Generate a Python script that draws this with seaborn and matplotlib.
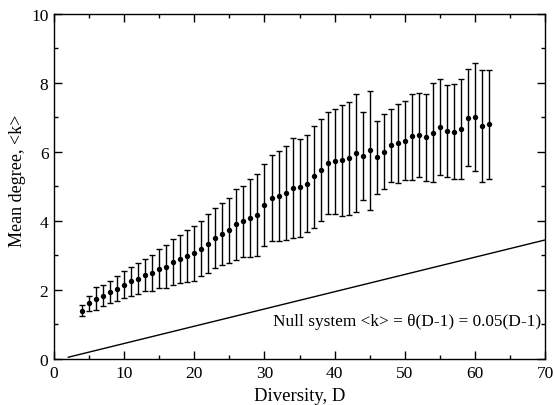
import matplotlib
matplotlib.use("Agg")
import matplotlib.pyplot as plt
import seaborn as sns
import numpy as np
import pandas as pd
from matplotlib.ticker import MultipleLocator

# Diversity values and mean degree
diversity = list(range(4, 63))
mean_k = [1.40, 1.63, 1.75, 1.84, 1.93, 2.03, 2.15, 2.25, 2.32, 2.42,
          2.48, 2.60, 2.68, 2.81, 2.89, 2.98, 3.07, 3.18, 3.34, 3.50,
          3.62, 3.73, 3.90, 3.99, 4.09, 4.17, 4.47, 4.67, 4.72, 4.81,
          4.96, 4.97, 5.07, 5.29, 5.48, 5.68, 5.73, 5.76, 5.82, 5.96,
          5.89, 6.05, 5.86, 6.00, 6.19, 6.25, 6.33, 6.46, 6.50, 6.42,
          6.55, 6.72, 6.60, 6.57, 6.67, 6.99, 7.02, 6.76, 6.81]
upper_k = [1.57, 1.84, 2.08, 2.13, 2.25, 2.40, 2.55, 2.66, 2.78, 2.90,
           3.00, 3.18, 3.31, 3.48, 3.58, 3.74, 3.84, 3.99, 4.20, 4.39,
           4.52, 4.67, 4.92, 5.02, 5.22, 5.35, 5.66, 5.91, 6.02, 6.18,
           6.40, 6.38, 6.48, 6.76, 6.95, 7.15, 7.24, 7.36, 7.46, 7.68,
           7.15, 7.77, 6.91, 7.09, 7.25, 7.38, 7.48, 7.68, 7.72, 7.67,
           7.99, 8.11, 7.93, 7.97, 8.11, 8.40, 8.59, 8.38, 8.38]
lower_k = [1.24, 1.40, 1.42, 1.53, 1.62, 1.69, 1.78, 1.84, 1.89, 1.96,
           1.97, 2.05, 2.07, 2.15, 2.20, 2.23, 2.27, 2.40, 2.49, 2.63,
           2.71, 2.78, 2.88, 2.96, 2.96, 2.99, 3.28, 3.42, 3.43, 3.46,
           3.51, 3.53, 3.68, 3.81, 4.01, 4.20, 4.20, 4.15, 4.18, 4.26,
           4.61, 4.33, 4.79, 4.92, 5.13, 5.11, 5.18, 5.20, 5.28, 5.17,
           5.13, 5.33, 5.28, 5.23, 5.23, 5.58, 5.45, 5.12, 5.22]

# null model <k> = theta (D-1)
theta = 0.05
null_d = [2, 70]

df = pd.DataFrame({"D": diversity, "k": mean_k, "lo": lower_k, "hi": upper_k})
null_df = pd.DataFrame({"D": null_d, "k": [theta * (d - 1) for d in null_d]})

sns.set_style("ticks")
plt.rcParams["font.family"] = ["Liberation Serif", "DejaVu Serif"]
plt.rcParams["text.color"] = "black"
plt.rcParams["axes.labelcolor"] = "black"
plt.rcParams["xtick.labelcolor"] = "black"
plt.rcParams["ytick.labelcolor"] = "black"

fig = plt.figure(figsize=(5.54, 4.06), dpi=100)
ax = fig.add_axes([0.0975, 0.1133, 0.8865, 0.85])

yerr = np.vstack([df["k"] - df["lo"], df["hi"] - df["k"]])
ax.errorbar(df["D"], df["k"], yerr=yerr, fmt="none", ecolor="black",
            elinewidth=1.0, capsize=2.5, capthick=1.0)
sns.scatterplot(data=df, x="D", y="k", ax=ax, color="black", s=15,
                edgecolor="black", linewidth=0, zorder=3)
sns.lineplot(data=null_df, x="D", y="k", ax=ax, color="black", linewidth=1.0)

ax.text(69.4, 1.1, "Null system <k> = θ(D-1) = 0.05(D-1)", ha="right",
        va="center", fontsize=12.4)

ax.set_xlim(0, 70)
ax.set_ylim(0, 10)
ax.xaxis.set_major_locator(MultipleLocator(10))
ax.xaxis.set_minor_locator(MultipleLocator(5))
ax.yaxis.set_major_locator(MultipleLocator(2))
ax.yaxis.set_minor_locator(MultipleLocator(1))
ax.tick_params(which="both", direction="in", top=True, right=True,
               labelsize=12.5, width=1.0, color="black", labelcolor="black")
ax.tick_params(which="major", length=6, pad=4)
ax.tick_params(which="minor", length=3)
for sp in ax.spines.values():
    sp.set_linewidth(1.0)
    sp.set_color("black")

ax.set_xlabel("Diversity, D", fontsize=13.5, va="center")
ax.xaxis.set_label_coords(0.5, -0.105)
ax.set_ylabel("Mean degree, <k>", fontsize=13, va="center")
ax.yaxis.set_label_coords(-0.075, 0.52)

fig.savefig("out.png", dpi=100)
